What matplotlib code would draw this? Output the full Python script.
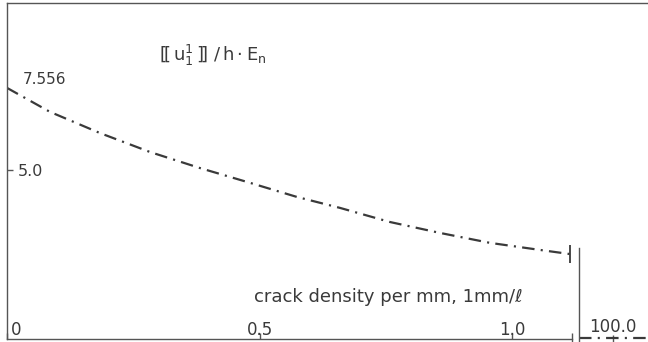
import matplotlib
matplotlib.use("Agg")
import matplotlib.pyplot as plt
import matplotlib.transforms as mtransforms

plt.rcParams['font.family'] = ['DejaVu Sans']
plt.rcParams['mathtext.fontset'] = 'dejavusans'
plt.rcParams['lines.scale_dashes'] = False

# ---- data ----
crack_density = [0.0, 0.085, 0.184, 0.283, 0.382, 0.481, 0.574, 0.659,
                 0.758, 0.857, 0.956, 1.055, 1.115]
jump_value = [7.556, 6.81, 6.15, 5.56, 5.06, 4.60, 4.16, 3.82,
              3.38, 3.04, 2.73, 2.51, 2.38]
far_density = [99.0, 101.0]
far_value = [-0.22, -0.22]

x_ticks = [0.0, 0.5, 1.0]
x_tick_labels = ["0", "0.5", "1.0"]
y_ticks = [5.0]
y_tick_labels = ["5.0"]
far_ticks = [100.0]
far_tick_labels = ["100.0"]

x_label = "crack density per mm, 1mm/ℓ"
y_label = r"$[\![\,\mathrm{u}_1^1\,]\!]\ /\,\mathrm{h}\cdot\mathrm{E}_\mathrm{n}$"

W, H = 648, 342
fig = plt.figure(figsize=(W / 100, H / 100), dpi=100)
fig.patch.set_facecolor('white')

ink = '#3a3a3a'
spine_c = '#555555'
dashpat = (0, (9, 4.5, 1.5, 4.5))
fs = 12

# main axes
ax = fig.add_axes([7 / W, 3 / H, 640 / W, 336 / H])
ax.set_xlim(0, 1.2673)
ax.set_ylim(-0.265, 10.2)
ax.spines['right'].set_visible(False)
for s in ['left', 'bottom', 'top']:
    ax.spines[s].set_color(spine_c)
    ax.spines[s].set_linewidth(1.0)
ax.spines['bottom'].set_bounds(0, crack_density[-1] + 0.003)

ax.plot(crack_density, jump_value, color=ink, lw=1.6, linestyle=dashpat,
        solid_capstyle='butt', dash_capstyle='butt')
ax.plot(crack_density[-1:], jump_value[-1:], marker='|', markersize=13,
        markeredgewidth=1.3, color=ink, linestyle='none')

ax.annotate(f"{jump_value[0]}", xy=(crack_density[0], jump_value[0]),
            xytext=(11, 6), textcoords='offset points', fontsize=11,
            color=ink, ha='left', va='center')

ax.set_xticks(x_ticks)
ax.set_xticklabels(x_tick_labels, fontsize=fs, color=ink)
ax.set_xticks([crack_density[-1] + 0.003], minor=True)
ax.tick_params(axis='x', which='major', direction='in', length=4,
               width=1.0, color=spine_c, pad=-3)
ax.tick_params(axis='x', which='minor', direction='inout', length=8,
               width=1.0, color=spine_c)
for lbl in ax.get_xticklabels():
    lbl.set_va('baseline')
xl = ax.get_xticklabels()
xl[0].set_ha('left')
xl[0].set_transform(xl[0].get_transform() +
                    mtransforms.ScaledTranslation(3 / 72, 0, fig.dpi_scale_trans))

ax.set_yticks(y_ticks)
ax.set_yticklabels(y_tick_labels, fontsize=11.5, color=ink)
ax.tick_params(axis='y', direction='in', length=4, width=1.0,
               color=spine_c, pad=-8)
for lbl in ax.get_yticklabels():
    lbl.set_ha('left')

ax.set_xlabel(x_label, fontsize=13, color=ink)
ax.xaxis.set_label_coords((388 - 7) / 640, 0.124)
ax.xaxis.label.set_va('center')

ax.set_ylabel(y_label, fontsize=13, color=ink, rotation=0)
ax.yaxis.set_label_coords((213 - 7) / 640, (339 - 55) / 336)
ax.yaxis.label.set_ha('center')
ax.yaxis.label.set_va('center')

# far-right panel (crack density 100)
ax2 = fig.add_axes([579 / W, 0, 68 / W, 94 / H])
ax2.set_xlim(far_density[0], far_density[-1])
ax2.set_ylim(-0.358, 2.57)
ax2.patch.set_alpha(0)
for s in ['right', 'top', 'bottom']:
    ax2.spines[s].set_visible(False)
ax2.spines['left'].set_color(spine_c)
ax2.spines['left'].set_linewidth(1.0)
ax2.plot(far_density, far_value, color=ink, lw=1.6, linestyle=dashpat)
ax2.set_yticks([])
ax2.set_xticks(far_ticks)
ax2.set_xticklabels(far_tick_labels, fontsize=fs, color=ink)
ax2.tick_params(axis='x', direction='in', length=5, width=1.0,
                color=spine_c, pad=-7)
for lbl in ax2.get_xticklabels():
    lbl.set_va('baseline')

fig.savefig('out.png', dpi=100, facecolor='white')
